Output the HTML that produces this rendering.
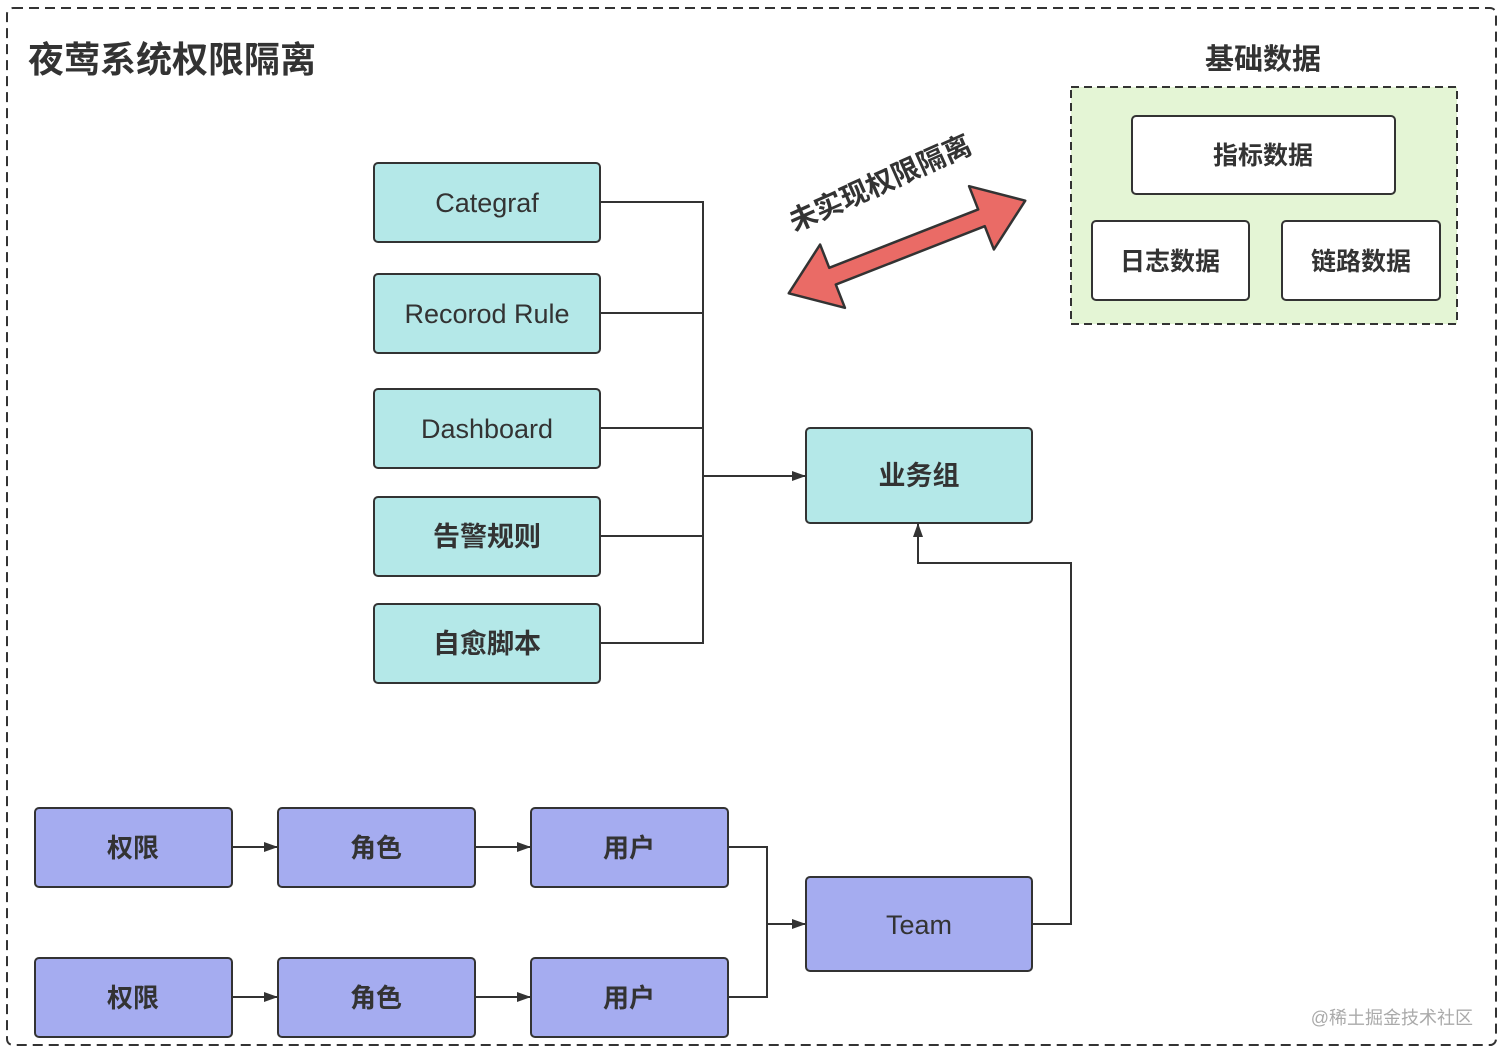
<!DOCTYPE html>
<html><head><meta charset="utf-8"><style>
body{margin:0;background:#fff}
text{font-family:"Liberation Sans","Noto Sans CJK SC",sans-serif;fill:#333}
</style></head><body>
<svg width="1501" height="1055" xmlns="http://www.w3.org/2000/svg">
<defs><marker id="a" markerWidth="14" markerHeight="10" refX="13" refY="5" orient="auto" markerUnits="userSpaceOnUse"><path d="M0,0 L14,5 L0,10 Z" fill="#333"/></marker></defs>
<rect x="7" y="8" width="1489" height="1037" rx="6" fill="none" stroke="#333" stroke-width="2" stroke-dasharray="10,6"/>
<text x="28" y="72" font-size="36" font-weight="bold" fill="#111">夜莺系统权限隔离</text>
<text x="1263" y="69" font-size="29" font-weight="bold" text-anchor="middle">基础数据</text>
<rect x="1071" y="87" width="386" height="237" fill="#e4f5d5" stroke="#333" stroke-width="2" stroke-dasharray="8,5"/>
<g fill="#fff" stroke="#333" stroke-width="2">
<rect x="1132" y="116" width="263" height="78" rx="4"/>
<rect x="1092" y="221" width="157" height="79" rx="4"/>
<rect x="1282" y="221" width="158" height="79" rx="4"/>
</g>
<g font-size="25" font-weight="bold" text-anchor="middle">
<text x="1263" y="164">指标数据</text><text x="1170" y="270">日志数据</text><text x="1361" y="270">链路数据</text>
</g>
<g transform="translate(907,247) rotate(-21.4)">
<polygon points="-127,0 -80,-34 -80,-9 80,-9 80,-34 127,0 80,34 80,9 -80,9 -80,34" fill="#ea6b66" stroke="#333" stroke-width="2.5" stroke-linejoin="round"/>
</g>
<text transform="translate(884,192) rotate(-24)" font-size="28" font-weight="bold" text-anchor="middle">未实现权限隔离</text>
<g fill="#b4e8e8" stroke="#333" stroke-width="2">
<rect x="374" y="163" width="226" height="79" rx="4"/>
<rect x="374" y="274" width="226" height="79" rx="4"/>
<rect x="374" y="389" width="226" height="79" rx="4"/>
<rect x="374" y="497" width="226" height="79" rx="4"/>
<rect x="374" y="604" width="226" height="79" rx="4"/>
<rect x="806" y="428" width="226" height="95" rx="4"/>
</g>
<g font-size="27" text-anchor="middle">
<text x="487" y="212">Categraf</text><text x="487" y="323">Recorod Rule</text><text x="487" y="438">Dashboard</text>
<text x="487" y="546" font-weight="bold">告警规则</text><text x="487" y="653" font-weight="bold">自愈脚本</text>
<text x="919" y="485" font-weight="bold">业务组</text>
</g>
<g fill="none" stroke="#333" stroke-width="2">
<path d="M600,202H703V643H600M600,313H703M600,428H703M600,536H703"/>
<path d="M703,476H805" marker-end="url(#a)"/>
<path d="M1032,924H1071V563H918V524" marker-end="url(#a)"/>
<path d="M728,847H767V997H728"/>
<path d="M767,924H805" marker-end="url(#a)"/>
<path d="M232,847H277" marker-end="url(#a)"/>
<path d="M475,847H530" marker-end="url(#a)"/>
<path d="M232,997H277" marker-end="url(#a)"/>
<path d="M475,997H530" marker-end="url(#a)"/>
</g>
<g fill="#a5acf0" stroke="#333" stroke-width="2">
<rect x="35" y="808" width="197" height="79" rx="4"/><rect x="278" y="808" width="197" height="79" rx="4"/><rect x="531" y="808" width="197" height="79" rx="4"/>
<rect x="35" y="958" width="197" height="79" rx="4"/><rect x="278" y="958" width="197" height="79" rx="4"/><rect x="531" y="958" width="197" height="79" rx="4"/>
<rect x="806" y="877" width="226" height="94" rx="4"/>
</g>
<g font-size="26" font-weight="bold" text-anchor="middle">
<text x="133" y="857">权限</text><text x="376" y="857">角色</text><text x="629" y="857">用户</text>
<text x="133" y="1007">权限</text><text x="376" y="1007">角色</text><text x="629" y="1007">用户</text>
<text x="919" y="934" font-weight="normal" font-size="27">Team</text>
</g>
<text x="1473" y="1024" font-size="18" text-anchor="end" style="fill:#aaa">@稀土掘金技术社区</text>
</svg>
</body></html>
